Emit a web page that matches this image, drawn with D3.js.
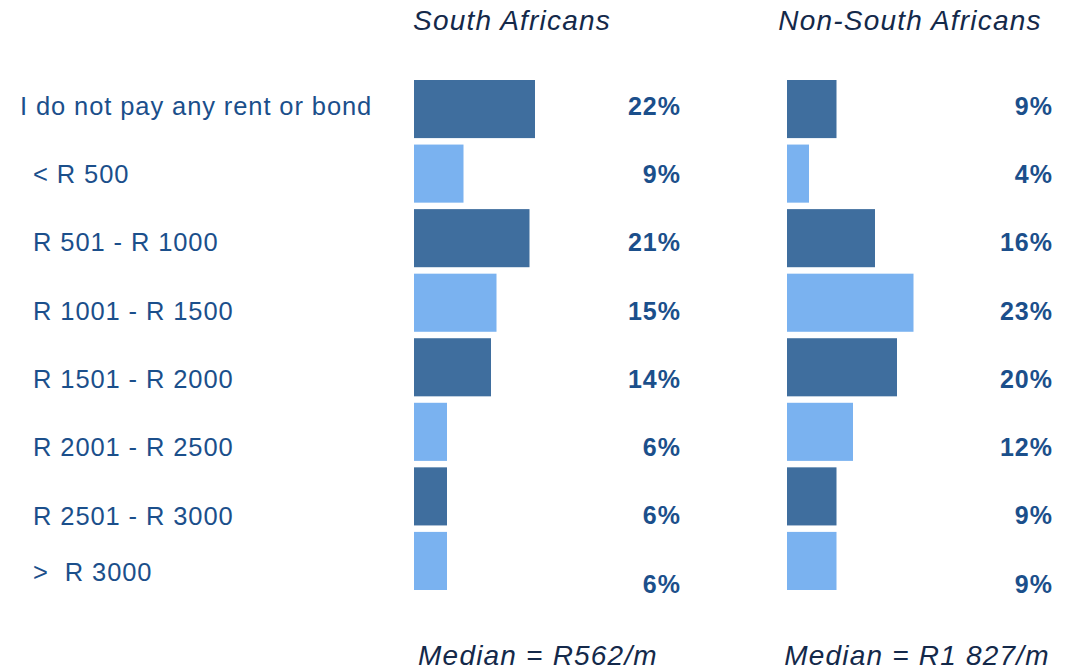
<!DOCTYPE html>
<html>
  <head>
    <meta charset="utf-8">
    <style>
    body { margin: 0; background: #fff; }
    text { font-family: "Liberation Sans", Arial, sans-serif; }
    .cat { fill: #1b4f8b; font-size: 25.5px; letter-spacing: 0.9px; }
    .pct { fill: #1b4f8b; font-size: 25px; font-weight: bold; letter-spacing: 1px; }
    .title { fill: #14294a; font-size: 28px; font-style: italic; letter-spacing: 1.2px; }
    </style>
    <script src="https://cdn.jsdelivr.net/npm/d3@7"></script>
  </head>
  <body>
    <script>
    var width = 1069, height = 670;

    // rent / bond categories
    var categories = [
      "I do not pay any rent or bond",
      "< R 500",
      "R 501 - R 1000",
      "R 1001 - R 1500",
      "R 1501 - R 2000",
      "R 2001 - R 2500",
      "R 2501 - R 3000",
      ">  R 3000"
    ];
    var southAfricans = [22, 9, 21, 15, 14, 6, 6, 6];
    var nonSouthAfricans = [9, 4, 16, 23, 20, 12, 9, 9];
    var groups = ["South Africans", "Non-South Africans"];
    var medians = ["Median = R562/m", "Median = R1 827/m"];

    var dark = "#3f6e9e", light = "#7ab2f0";

    var svg = d3.select("body").append("svg")
        .attr("width", width)
        .attr("height", height);

    var y = d3.scaleBand()
        .domain(categories)
        .range([80, 590])
        .paddingInner(0.1);

    // labels sit on a slightly wider spacing than the bars
    var yLabel = d3.scalePoint()
        .domain(categories)
        .range([106, 584]);

    var x = d3.scaleLinear().domain([0, 25]).range([0, 137.5]);

    var panels = [
      {name: groups[0], values: southAfricans, x0: 414, pctX: 681, titleX: 512, median: medians[0], medX: 538},
      {name: groups[1], values: nonSouthAfricans, x0: 787, pctX: 1053, titleX: 910, median: medians[1], medX: 917}
    ];

    // category labels
    svg.selectAll(".cat")
      .data(categories)
      .enter().append("text")
        .attr("class", "cat")
        .attr("x", function(d, i) { return i == 0 ? 20 : 33; })
        .attr("y", function(d, i) { return yLabel(d) - (i == 7 ? 12 : 0); })
        .attr("dy", "0.35em")
        .style("white-space", "pre")
        .text(function(d) { return d; });

    panels.forEach(function(p) {
      var g = svg.append("g");

      g.append("text")
        .attr("class", "title")
        .attr("x", p.titleX)
        .attr("y", 30)
        .attr("text-anchor", "middle")
        .text(p.name);

      g.selectAll("rect")
        .data(p.values)
        .enter().append("rect")
          .attr("x", p.x0)
          .attr("y", function(d, i) { return y(categories[i]); })
          .attr("width", function(d) { return x(d); })
          .attr("height", y.bandwidth())
          .attr("fill", function(d, i) { return i % 2 ? light : dark; });

      g.selectAll(".pct")
        .data(p.values)
        .enter().append("text")
          .attr("class", "pct")
          .attr("x", p.pctX)
          .attr("y", function(d, i) { return yLabel(categories[i]); })
          .attr("dy", "0.35em")
          .attr("text-anchor", "end")
          .text(function(d) { return d + "%"; });

      g.append("text")
        .attr("class", "title")
        .attr("x", p.medX)
        .attr("y", 665)
        .attr("text-anchor", "middle")
        .text(p.median);
    });
    </script>
  </body>
</html>
